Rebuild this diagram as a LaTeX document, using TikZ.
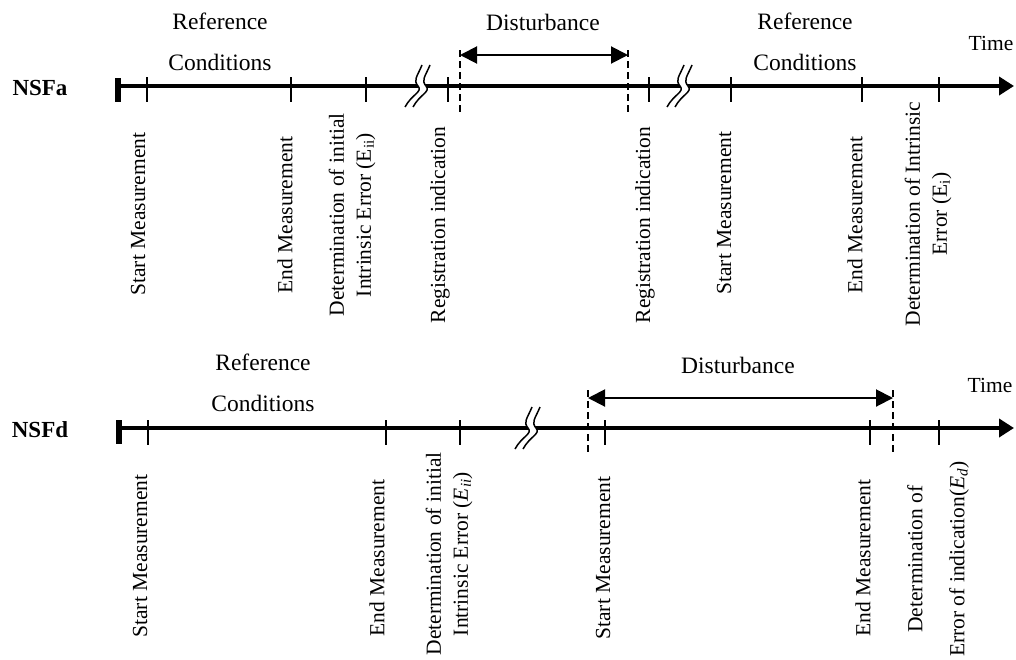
\documentclass[tikz,border=0pt]{standalone}
\usepackage{fontspec}
\setmainfont{Liberation Serif}
\usetikzlibrary{arrows.meta}
\tikzset{
  time axis/.style={line width=4.5pt,-{Triangle[length=15pt,width=18pt]}},
  tick mark/.style={line width=2pt},
  start bar/.style={line width=6pt},
  limit line/.style={line width=1.8pt,dash pattern=on 7pt off 4pt},
  span arrow/.style={line width=2pt,{Triangle[length=17pt,width=17pt]}-{Triangle[length=17pt,width=17pt]}},
  event label/.style={rotate=90,align=center,inner sep=0pt,font=\fontsize{21.5}{27}\selectfont},
  phase label/.style={align=center,inner sep=0pt,font=\fontsize{23.5}{41}\selectfont},
  row label/.style={inner sep=0pt,font=\fontsize{23}{27}\selectfont\bfseries},
  time label/.style={inner sep=0pt,font=\fontsize{21.5}{25}\selectfont},
  axis break/.pic={
    \fill[white] (-12,21) .. controls (-5,8) and (6,6) .. (1,0) .. controls (-4,-6) and (0,-9) .. (5,-21)
      -- (13,-21) .. controls (8,-9) and (4,-6) .. (9,0) .. controls (14,6) and (3,8) .. (-4,21) -- cycle;
    \draw[line width=1.5pt] (-12,21) .. controls (-5,8) and (6,6) .. (1,0) .. controls (-4,-6) and (0,-9) .. (5,-21);
    \draw[line width=1.5pt] (-4,21) .. controls (3,8) and (14,6) .. (9,0) .. controls (4,-6) and (8,-9) .. (13,-21);
  }
}

\begin{document}
\begin{tikzpicture}[x=1pt,y=-1pt]
\useasboundingbox (0,0) rectangle (1016,659);

% NSFa
\node[row label] (nsfa) at (40,88) {NSFa};
\coordinate (a0) at (118,86);
\coordinate (a1) at (1014,86);
\draw[time axis] (a0) -- (a1);
\draw[start bar] (118,78) -- (118,102);
\pic at (417,86) {axis break};
\pic at (679,86) {axis break};
\foreach \x in {147,291,366,448,649,731,862,939}
  \draw[tick mark] (\x,77) -- (\x,102);

\coordinate (da0) at (460,50);
\coordinate (da1) at (460,112);
\coordinate (db0) at (628,50);
\coordinate (db1) at (628,112);
\draw[limit line] (da0) -- (da1);
\draw[limit line] (db0) -- (db1);
\coordinate (sa0) at (460,55);
\coordinate (sa1) at (628,55);
\draw[span arrow] (sa0) -- (sa1);

\node[phase label] (rc1) at (220,42) {Reference\\Conditions};
\node[phase label] (dist1) at (543,22) {Disturbance};
\node[phase label] (rc2) at (805,42) {Reference\\Conditions};
\node[time label] (time1) at (991,43) {Time};

\node[event label] (sm1) at (138,214) {Start Measurement};
\node[event label] (em1) at (285,215) {End Measurement};
\node[event label] (ei1) at (352,215) {Determination of initial\\Intrinsic Error (E\textsubscript{ii})};
\node[event label] (ri1) at (440,225) {Registration indication};
\node[event label] (ri2) at (645,225) {Registration indication};
\node[event label] (sm2) at (724,213) {Start Measurement};
\node[event label] (em2) at (855,215) {End Measurement};
\node[event label] (ei2) at (928,214) {Determination of Intrinsic\\Error (E\textsubscript{i})};

% NSFd
\node[row label] (nsfd) at (40,430) {NSFd};
\coordinate (b0) at (119,428);
\coordinate (b1) at (1014,428);
\draw[time axis] (b0) -- (b1);
\draw[start bar] (119,420) -- (119,444);
\pic at (527,428) {axis break};
\foreach \x in {148,386,460,605,870,939}
  \draw[tick mark] (\x,420) -- (\x,445);

\coordinate (dc0) at (588,390);
\coordinate (dc1) at (588,452);
\coordinate (dd0) at (893,390);
\coordinate (dd1) at (893,452);
\draw[limit line] (dc0) -- (dc1);
\draw[limit line] (dd0) -- (dd1);
\coordinate (sb0) at (588,398);
\coordinate (sb1) at (893,398);
\draw[span arrow] (sb0) -- (sb1);

\node[phase label] (rc3) at (263,383) {Reference\\Conditions};
\node[phase label] (dist2) at (738,365) {Disturbance};
\node[time label] (time2) at (990,385) {Time};

\node[event label] (sm3) at (140,556) {Start Measurement};
\node[event label] (em3) at (377,558) {End Measurement};
\node[event label] (ei3) at (449,554) {Determination of initial\\Intrinsic Error (\textit{E}\textsubscript{\textit{ii}})};
\node[event label] (sm4) at (603,558) {Start Measurement};
\node[event label] (em4) at (863,558) {End Measurement};
\node[event label] (ed) at (938,559) {Determination of\\[15pt]Error of indication(\textit{E}\textsubscript{\textit{d}})};
\end{tikzpicture}
\end{document}
